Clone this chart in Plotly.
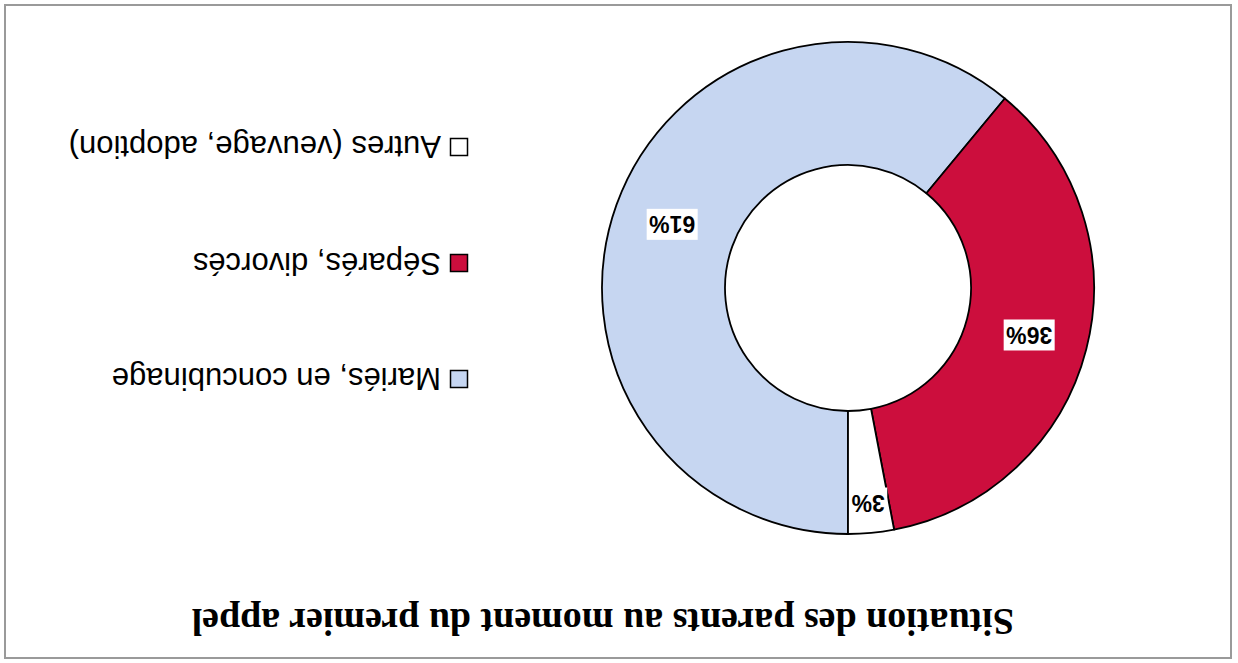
import math
import plotly.graph_objects as go

# ---- data ----
labels = ["Mariés, en concubinage", "Séparés, divorcés", "Autres (veuvage, adoption)"]
values = [61, 36, 3]
colors = ["#C6D6F1", "#CC0E3D", "#FFFFFF"]
title_text = "Situation des parents au moment du premier appel"

# ---- layout constants (pixels) ----
W, H = 1238, 663
cx, cy, R = 848, 288, 246
hole = 0.5
start_deg = 180
label_radius = [0.76, 0.76, 0.88]

fig = go.Figure()
fig.add_trace(go.Pie(
    labels=labels, values=values, sort=False, direction="clockwise",
    rotation=start_deg, hole=hole, textinfo="none", showlegend=False,
    marker=dict(colors=colors, line=dict(color="#000000", width=1.8)),
    domain=dict(x=[(cx - 300) / W, (cx + 300) / W],
                y=[1 - (cy + R) / H, 1 - (cy - R) / H]),
))

annotations = []
shapes = []
total = sum(values)
acc = 0
for i, (lab, v) in enumerate(zip(labels, values)):
    mid = math.radians(start_deg + (acc + v / 2) / total * 360)
    acc += v
    rr = label_radius[i] * R
    px = cx + rr * math.sin(mid)
    py = cy - rr * math.cos(mid)
    annotations.append(dict(
        x=px / W, y=1 - py / H, xref="paper", yref="paper",
        text=f"{v}%", showarrow=False, textangle=180,
        font=dict(family="Liberation Sans, Arial", size=23, color="#000000", weight="bold"),
        bgcolor="#FFFFFF", borderpad=2,
        xanchor="center", yanchor="middle",
    ))

# legend (rendered rotated by 180 degrees like the reference)
leg_x, leg_y0, leg_dy, sq = 459, 379, 116, 17
for i, (lab, col) in enumerate(zip(labels, colors)):
    ly = leg_y0 - i * leg_dy
    shapes.append(dict(
        type="rect", xref="paper", yref="paper",
        x0=(leg_x - sq / 2) / W, x1=(leg_x + sq / 2) / W,
        y0=1 - (ly + sq / 2) / H, y1=1 - (ly - sq / 2) / H,
        fillcolor=col, line=dict(color="#000000", width=1.5),
    ))
    annotations.append(dict(
        x=(leg_x - sq / 2 - 7) / W, y=1 - ly / H, xref="paper", yref="paper",
        text=lab, showarrow=False, textangle=180,
        font=dict(family="Liberation Sans, Arial", size=31, color="#000000"),
        xanchor="right", yanchor="middle",
    ))

# title (upside down)
annotations.append(dict(
    x=603 / W, y=1 - 622 / H, xref="paper", yref="paper",
    text=title_text, showarrow=False, textangle=180,
    font=dict(family="Liberation Serif, Times New Roman", size=38, color="#000000", weight="bold"),
    xanchor="center", yanchor="middle",
))

# frame
shapes.append(dict(
    type="rect", xref="paper", yref="paper",
    x0=5 / W, x1=1231 / W, y0=1 - 658 / H, y1=1 - 5 / H,
    line=dict(color="#9A9A9A", width=2), fillcolor="rgba(0,0,0,0)",
))

fig.update_layout(
    width=W, height=H, margin=dict(l=0, r=0, t=0, b=0),
    paper_bgcolor="#FFFFFF", plot_bgcolor="#FFFFFF",
    annotations=annotations, shapes=shapes,
)

fig.write_html(
    "out.html",
    config={"displayModeBar": False},
    post_script="document.body.style.margin='0';document.body.style.overflow='hidden';",
)
